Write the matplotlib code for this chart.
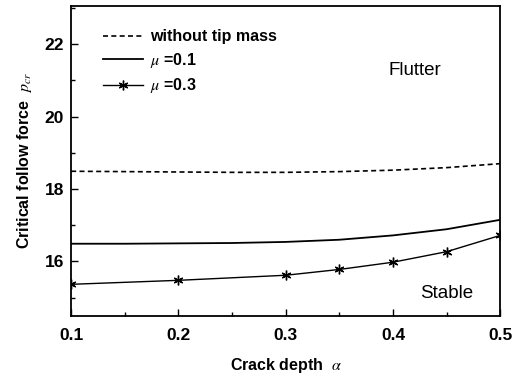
import matplotlib
matplotlib.use("Agg")
import matplotlib.pyplot as plt
from matplotlib.ticker import MultipleLocator

plt.rcParams['font.family'] = ['Liberation Sans', 'DejaVu Sans']
plt.rcParams['mathtext.fontset'] = 'stix'

alpha_dash = [0.1, 0.15, 0.2, 0.25, 0.3, 0.35, 0.4, 0.45, 0.5]
no_tip = [18.49, 18.48, 18.47, 18.46, 18.46, 18.48, 18.52, 18.59, 18.70]

alpha_mu1 = [0.1, 0.15, 0.2, 0.25, 0.3, 0.35, 0.4, 0.45, 0.5]
mu1 = [16.49, 16.49, 16.50, 16.51, 16.54, 16.60, 16.72, 16.89, 17.15]

alpha_mu3 = [0.1, 0.2, 0.3, 0.35, 0.4, 0.45, 0.5]
mu3 = [15.37, 15.48, 15.62, 15.78, 15.98, 16.27, 16.72]

fig = plt.figure(figsize=(5.12, 3.76), dpi=100)
ax = fig.add_axes([0.139, 0.16, 0.838, 0.824])

ax.plot(alpha_dash, no_tip, 'k--', lw=1.2, dashes=(3, 2), label='without tip mass')
ax.plot(alpha_mu1, mu1, 'k-', lw=1.3, label=r'$\mu$ =0.1')
ax.plot(alpha_mu3, mu3, 'k-', lw=1.0, marker=(6, 2, 0), ms=7, mew=1.0, label=r'$\mu$ =0.3')

ax.set_xlim(0.1, 0.5)
ax.set_ylim(14.5, 23.05)
ax.xaxis.set_major_locator(MultipleLocator(0.1))
ax.xaxis.set_minor_locator(MultipleLocator(0.05))
ax.yaxis.set_major_locator(MultipleLocator(2))
ax.yaxis.set_minor_locator(MultipleLocator(1))
ax.tick_params(which='both', direction='in', top=False, right=False, labelsize=12.5)
ax.tick_params(axis='x', which='major', pad=9)
ax.tick_params(axis='y', which='major', pad=5)
ax.tick_params(which='major', length=5, width=1)
ax.tick_params(which='minor', length=3, width=1)
for lab in ax.get_xticklabels() + ax.get_yticklabels():
    lab.set_fontweight('bold')
for s in ax.spines.values():
    s.set_linewidth(1.3)

ax.set_xlabel(r'Crack depth  $\alpha$', fontsize=11.5, fontweight='bold', labelpad=9)
ax.set_ylabel(r'Critical follow force  $p_{cr}$', fontsize=11.5, fontweight='bold', labelpad=8)

ax.text(0.42, 21.27, 'Flutter', fontsize=13.5, ha='center', va='center')
ax.text(0.45, 15.12, 'Stable', fontsize=13.5, ha='center', va='center')

leg = ax.legend(loc='upper left', frameon=False, fontsize=11.5, handlelength=2.5,
                handletextpad=0.4, labelspacing=0.4, borderaxespad=0.0,
                bbox_to_anchor=(0.06, 0.945))
for t in leg.get_texts():
    t.set_fontweight('bold')

fig.savefig('out.png', dpi=100)
